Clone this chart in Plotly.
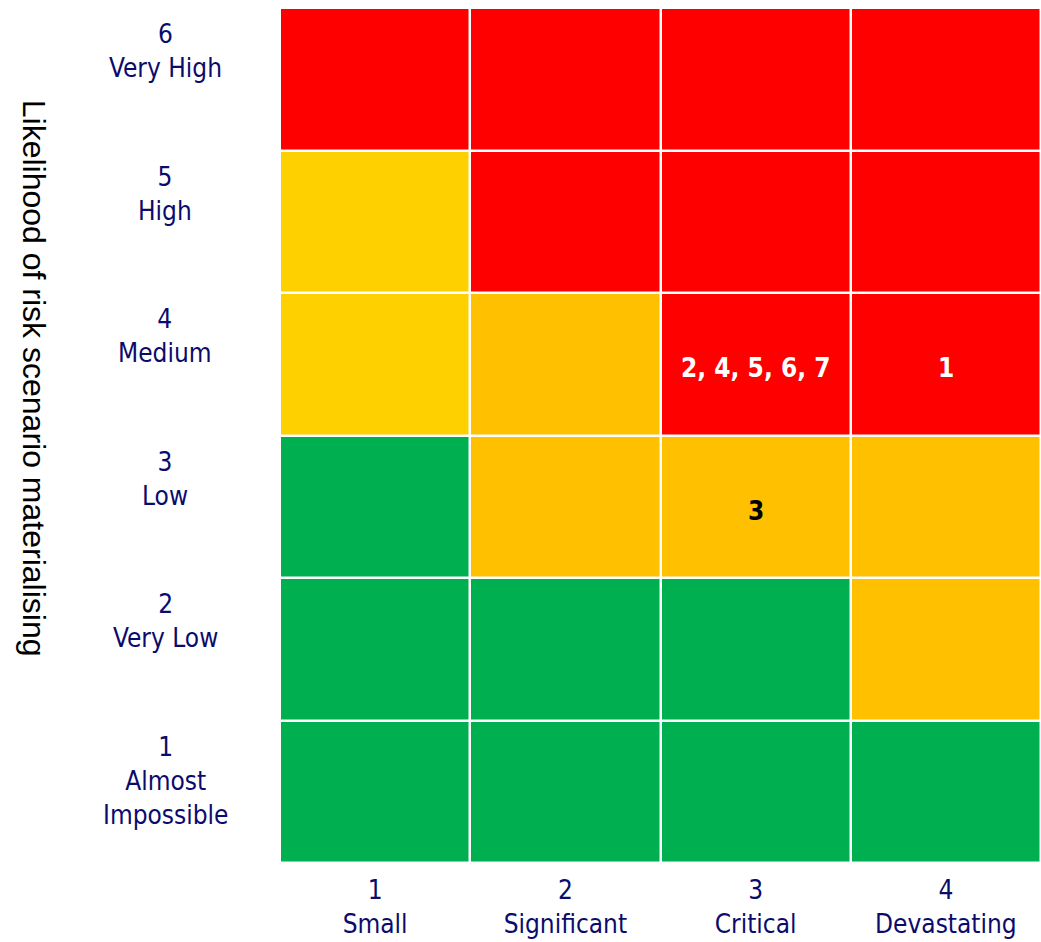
import plotly.graph_objects as go

impact_vals = [1, 2, 3, 4]
impact_labels = ["Small", "Significant", "Critical", "Devastating"]
likelihood_vals = [1, 2, 3, 4, 5, 6]
likelihood_labels = ["Almost<br>Impossible", "Very Low", "Low", "Medium", "High", "Very High"]

# risk level per cell: 0 green, 1 yellow, 2 amber, 3 red ; rows = likelihood 1..6
risk_level = [
    [0, 0, 0, 0],
    [0, 0, 0, 2],
    [0, 2, 2, 2],
    [1, 2, 3, 3],
    [1, 3, 3, 3],
    [3, 3, 3, 3],
]
level_colors = ["#00B050", "#FFD000", "#FFC000", "#FF0000"]

# scenarios placed in the matrix: (impact, likelihood, label, text colour)
scen_x = [3, 4, 3]
scen_y = [4, 4, 3]
scen_text = ["2, 4, 5, 6, 7", "1", "3"]
scen_color = ["white", "white", "black"]

FONT = "Tahoma, 'DejaVu Sans Condensed', 'DejaVu Sans', sans-serif"
NAVY = "#0b0b6b"

colorscale = []
n = len(level_colors)
for i, c in enumerate(level_colors):
    colorscale.append([i / n, c])
    colorscale.append([(i + 1) / n, c])

fig = go.Figure()
fig.add_trace(go.Heatmap(
    x=impact_vals, y=likelihood_vals, z=risk_level,
    zmin=-0.5, zmax=n - 0.5, colorscale=colorscale, showscale=False,
    xgap=2.5, ygap=2.5, hoverinfo="skip",
))

for sx, sy, st, sc in zip(scen_x, scen_y, scen_text, scen_color):
    fig.add_annotation(
        x=sx, y=sy, xref="x", yref="y", text=f"<b>{st}</b>", showarrow=False,
        yshift=-4, font=dict(family=FONT, size=26, color=sc),
    )

for v, lab in zip(likelihood_vals, likelihood_labels):
    fig.add_annotation(
        x=-0.151, xref="paper", y=v + 0.5, yref="y", yanchor="top", xanchor="center",
        yshift=-9, text=f"{v}<br>{lab}", showarrow=False, align="center",
        font=dict(family=FONT, size=26, color=NAVY),
    )

fig.add_annotation(
    x=-0.324, xref="paper", y=0.567, yref="paper", xanchor="center", yanchor="middle",
    text="Likelihood of risk scenario materialising", textangle=90, showarrow=False,
    font=dict(family="Arial, 'Liberation Sans', sans-serif", size=32, color="black"),
)

fig.update_xaxes(
    range=[0.5, 4.5], tickvals=impact_vals,
    ticktext=[f"{v}<br>{l}" for v, l in zip(impact_vals, impact_labels)],
    tickfont=dict(family=FONT, size=26, color=NAVY),
    showgrid=False, zeroline=False, showline=False, ticks="", ticklabelstandoff=9,
)
fig.update_yaxes(range=[0.5, 6.5], showticklabels=False, showgrid=False, zeroline=False, showline=False)

fig.update_layout(
    width=1041, height=942, margin=dict(l=280, r=0, t=8, b=79),
    paper_bgcolor="white", plot_bgcolor="white", showlegend=False,
)
fig.write_html("out.html")
